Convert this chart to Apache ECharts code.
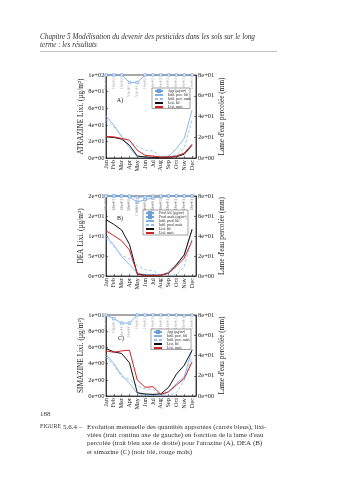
<!DOCTYPE html>
<html>
<head>
<meta charset="utf-8">
<script src="https://cdn.jsdelivr.net/npm/echarts@6/dist/echarts.min.js"></script>
<style>
html,body{margin:0;padding:0;background:#fff;}
#c{width:339px;height:480px;}
</style>
</head>
<body>
<div id="c"></div>
<script>
// ---------- data ----------
const months = ['Jan','Feb','Mar','Apr','May','Jun','Jul','Aug','Sep','Oct','Nov','Dec'];

// A) atrazine
const atrApp       = [100,100,100,91,91,100,100,100,100,100,100,100];
const atrInfilBle  = [40.5,31.7,20.4,10,1,1,0.5,0.5,1.6,9,19,46];
const atrInfilMais = [37,30,22,14.6,11.3,7.5,6.8,1,2.6,2.6,10,36.6];
const atrLixiBle   = [25.5,24.7,22.7,15.4,2.4,1.2,0.8,0.4,0.8,1.6,4.5,15.4];
const atrLixiMais  = [26,25.5,23.5,21.5,9.3,3.2,2.4,1.2,1.2,2.4,6,16.6];

// B) DEA
const deaProdBle   = [20,20,20,19.75,18.5,19.1,19.5,19.75,20,20,20,20];
const deaProdMais  = [20,20,20,20,19.6,19.8,20,20,20,20,20,20];
const deaInfilBle  = [40.3,31,19.5,11.2,3,1,1,0.7,4,11.9,21,46];
const deaInfilMais = [37.7,29.4,20.5,17.2,10.6,6.3,5.3,0.3,0.7,1.3,9.6,37.7];
const deaLixiBle   = [14.1,12.9,11.5,7.9,0.5,0.2,0.2,0.2,0.7,2.8,5.3,11.7];
const deaLixiMais  = [11.3,10.1,8.8,6.5,0.5,0,0,0.2,0.7,2.4,4.5,8.8];

// C) simazine
const simApp       = [10,9.55,9.0,9.0,10,10,10,10,10,10,9.9,10];
const simInfilBle  = [41,32,20.7,12.5,2.6,0.7,1,0.3,3.9,12.5,19,46];
const simInfilMais = [38.7,30.5,19,16.4,9.8,6.9,6.6,0.7,0.7,3.3,15.7,38.7];
const simLixiBle   = [5.86,5.45,5.25,4.1,0.4,0.25,0.2,0.25,1.07,2.7,3.8,5.65];
const simLixiMais  = [5.57,5.4,5.57,5.65,1.97,1.07,1.15,0.2,0.53,1.35,2.17,4.2];

// axis ranges / names
const leftMax = [100, 20, 10];
const leftInterval = [20, 5, 2];
const rightMax = 80, rightInterval = 20;
const leftNames = ['ATRAZINE Lixi. (µg/m²)', 'DEA Lixi. (µg/m²)', 'SIMAZINE Lixi. (µg/m²)'];
const rightName = "Lame d'eau percolée (mm)";
const panelLabels = ['A)', 'B)', 'C)'];

const headerLines = ['Chapitre 5 Modélisation du devenir des pesticides dans les sols sur le long', 'terme : les résultats'];
const pageNumber = '188';
const captionLines = [
  'Evolution mensuelle des quantités apportées (carrés bleus), lixi-',
  "viées (trait continu axe de gauche) en fonction de la lame d'eau",
  "percolée (trait bleu axe de droite) pour l'atrazine (A), DEA (B)",
  'et simazine (C) (noir blé, rouge maïs)'
];

// ---------- style ----------
const FF = '"Liberation Serif","DejaVu Serif",serif';
const INK = '#222';
const grids = [
  {left:106, top:75, width:90, height:83},
  {left:106, top:196, width:90, height:80},
  {left:106, top:315, width:90, height:81}
];

function fmtE(v){
  if (v === 0) return '0e+00';
  let e = Math.floor(Math.log10(Math.abs(v)));
  let m = Math.round(v / Math.pow(10, e));
  if (m >= 10) { m = 1; e++; }
  return m + 'e' + (e < 0 ? '-' : '+') + String(Math.abs(e)).padStart(2, '0');
}
function fmtApp(v){
  let e = Math.floor(Math.log10(Math.abs(v)));
  let m = (v / Math.pow(10, e)).toFixed(1);
  return m + 'e' + (e < 0 ? '-' : '+') + String(Math.abs(e)).padStart(2, '0');
}

const axisLineStyle = {show:true, lineStyle:{color:INK, width:0.8}};
const tickStyle = {show:true, inside:true, length:2, lineStyle:{color:INK, width:0.6}};

const xAxes = [], yAxes = [];
grids.forEach((g, i) => {
  g.show = true; g.borderColor = INK; g.borderWidth = 0.8; g.containLabel = false;
  xAxes.push({
    gridIndex:i, type:'value', min:0, max:11.5, interval:1,
    axisLine:axisLineStyle, axisTick:tickStyle, splitLine:{show:false},
    axisLabel:{rotate:90, fontSize:6.3, fontFamily:FF, color:INK, margin:2, showMaxLabel:false,
      formatter: v => { const k = Math.round(v); return Math.abs(v-k) < 1e-6 && k < months.length ? months[k] : ''; }}
  });
  yAxes.push({
    gridIndex:i, type:'value', position:'left', min:0, max:leftMax[i], interval:leftInterval[i],
    axisLine:axisLineStyle, axisTick:tickStyle, splitLine:{show:false},
    axisLabel:{fontSize:6.5, fontFamily:FF, color:INK, margin:1.5, formatter:fmtE},
    name:leftNames[i], nameLocation:'middle', nameRotate:90, nameGap:18,
    nameTextStyle:{fontSize:7.3, fontFamily:FF, color:INK}
  });
  yAxes.push({
    gridIndex:i, type:'value', position:'right', min:0, max:rightMax, interval:rightInterval,
    axisLine:axisLineStyle, axisTick:tickStyle, splitLine:{show:false},
    axisLabel:{fontSize:6.5, fontFamily:FF, color:INK, margin:2, formatter:fmtE},
    name:rightName, nameLocation:'middle', nameRotate:90, nameGap:22,
    nameTextStyle:{fontSize:7.3, fontFamily:FF, color:INK}
  });
});

const C_APP = '#6b9fd8', C_INF = '#7fb0e6', C_INF2 = '#93c0ee', C_BLE = '#111111', C_MAIS = '#d42222';

function lineSeries(name, values, gi, right, color, dashed, width){
  return {
    type:'line', name, xAxisIndex:gi, yAxisIndex:gi*2 + (right ? 1 : 0),
    data: values.map((v, k) => [k, v]),
    symbol:'none', showSymbol:false, animation:false, z:2,
    lineStyle:{color, width:width || 0.9, type: dashed ? [3,2] : 'solid'},
    itemStyle:{color}
  };
}
function appSeries(name, values, gi, dashed){
  return {
    type:'line', name, xAxisIndex:gi, yAxisIndex:gi*2,
    data: values.map((v, k) => [k, v]),
    symbol:'rect', symbolSize:2.6, showSymbol:true, animation:false, z:3, clip:false,
    lineStyle:{color:C_APP, width:0.8, type: dashed ? [2,1] : 'solid'},
    itemStyle:{color:'#e6effa', borderColor:C_APP, borderWidth:0.6},
    label:{show:true, position:'bottom', distance:1.5, rotate:90, fontSize:3.4, fontFamily:FF,
      color:'#999', align:'right', verticalAlign:'middle', formatter: p => fmtApp(p.value[1])}
  };
}

const series = [
  appSeries('App (µg/m²)', atrApp, 0),
  lineSeries('Infil. perc. blé', atrInfilBle, 0, true, C_INF, false, 0.9),
  lineSeries('Infil. perc. maïs', atrInfilMais, 0, true, C_INF2, true, 0.9),
  lineSeries('Lixi. blé', atrLixiBle, 0, false, C_BLE, false, 1),
  lineSeries('Lixi. maïs', atrLixiMais, 0, false, C_MAIS, false, 1),

  appSeries('Prod. blé (µg/m²)', deaProdBle, 1),
  appSeries('Prod. maïs (µg/m²)', deaProdMais, 1, true),
  lineSeries('Infil. prod. blé', deaInfilBle, 1, true, C_INF, false, 0.9),
  lineSeries('Infil. prod. maïs', deaInfilMais, 1, true, C_INF2, true, 0.9),
  lineSeries('Lixi. blé', deaLixiBle, 1, false, C_BLE, false, 1),
  lineSeries('Lixi. maïs', deaLixiMais, 1, false, C_MAIS, false, 1),

  appSeries('App (µg/m²)', simApp, 2),
  lineSeries('Infil. perc. blé', simInfilBle, 2, true, C_INF, false, 0.9),
  lineSeries('Infil. perc. maïs', simInfilMais, 2, true, C_INF2, true, 0.9),
  lineSeries('Lixi. blé', simLixiBle, 2, false, C_BLE, false, 1),
  lineSeries('Lixi. maïs', simLixiMais, 2, false, C_MAIS, false, 1)
];

// legends: symbol entries (square markers) and line entries, inside a drawn box
function legend(left, top, names, itemH){
  return {
    left, top, orient:'vertical', selectedMode:false, z:8,
    itemWidth:8, itemHeight:itemH, itemGap:0, padding:0,
    textStyle:{fontSize:3.6, fontFamily:FF, color:INK, lineHeight:4},
    data:names
  };
}
const legendBoxes = [
  {x:152, y:88, w:38, h:20.5},
  {x:143, y:210, w:45, h:25},
  {x:151, y:329, w:40, h:20.5}
];
const legends = [
  legend(154, 89, ['App (µg/m²)'], 2.6),
  legend(154, 93, ['Infil. perc. blé', 'Infil. perc. maïs', 'Lixi. blé', 'Lixi. maïs'], 1),
  legend(145, 211, ['Prod. blé (µg/m²)', 'Prod. maïs (µg/m²)'], 2.6),
  legend(145, 219, ['Infil. prod. blé', 'Infil. prod. maïs', 'Lixi. blé', 'Lixi. maïs'], 1),
  legend(153, 330, ['App (µg/m²)'], 2.6),
  legend(153, 334, ['Infil. perc. blé', 'Infil. perc. maïs', 'Lixi. blé', 'Lixi. maïs'], 1)
];

const TXT = '#333';
const panelPos = [[120,100],[120,218],[121,338]];
const graphics = [];
legendBoxes.forEach(b => graphics.push({
  type:'rect', silent:true, z:6, shape:{x:b.x, y:b.y, width:b.w, height:b.h},
  style:{fill:'#fff', stroke:'#444', lineWidth:0.5}
}));
headerLines.forEach((t, i) => graphics.push({
  type:'text', x:40, y:36.7 + i*8, silent:true,
  style:{text:t, fontSize:7.2, fontStyle:'italic', fontFamily:FF, fill:TXT, align:'left', verticalAlign:'middle'}
}));
graphics.push({type:'line', silent:true, shape:{x1:40, y1:51.5, x2:277, y2:51.5}, style:{stroke:'#999', lineWidth:0.6}});
panelLabels.forEach((t, i) => graphics.push({
  type:'text', x:panelPos[i][0], y:panelPos[i][1], silent:true, z:10,
  style:{text:t, fontSize:6, fontFamily:FF, fill:INK, align:'center', verticalAlign:'middle'}
}));
graphics.push({type:'text', x:40, y:414.3, silent:true,
  style:{text:pageNumber, fontSize:7, fontFamily:FF, fill:TXT, align:'left', verticalAlign:'middle'}});
graphics.push({type:'text', x:40, y:426.7, silent:true,
  style:{text:'FIGURE', fontSize:5.8, fontFamily:FF, fill:TXT, align:'left', verticalAlign:'middle'}});
graphics.push({type:'text', x:63, y:426.7, silent:true,
  style:{text:'5.6.4 –', fontSize:7, fontFamily:FF, fill:TXT, align:'left', verticalAlign:'middle'}});
captionLines.forEach((t, i) => graphics.push({
  type:'text', x:87, y:426.7 + i*8.33, silent:true,
  style:{text:t, fontSize:7, fontFamily:FF, fill:TXT, align:'left', verticalAlign:'middle'}
}));

const chart = echarts.init(document.getElementById('c'), null, {renderer:'canvas'});
chart.setOption({
  animation:false,
  backgroundColor:'#fff',
  grid:grids, xAxis:xAxes, yAxis:yAxes,
  legend:legends,
  series,
  graphic:{elements:graphics}
});
</script>
</body>
</html>
